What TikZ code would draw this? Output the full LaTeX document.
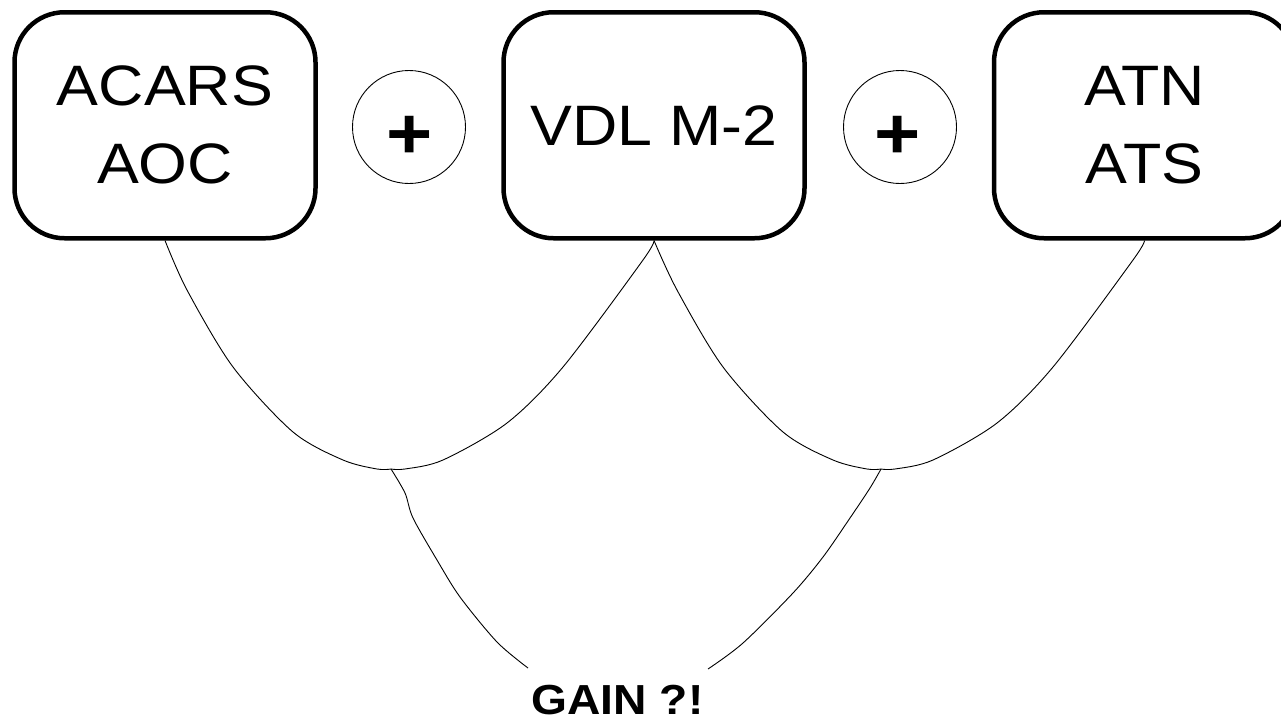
\documentclass[tikz,border=0pt]{standalone}
\usepackage{fontspec}
\newfontfamily\lbl{Liberation Sans}[FakeStretch=1.1]
\begin{document}
\begin{tikzpicture}[x=1pt,y=-1pt,
  boxnode/.style={draw, line width=4.5pt, rounded corners=50pt,
    minimum width=301pt, minimum height=226pt, inner sep=0pt,
    align=center, font=\lbl\fontsize{57}{78}\selectfont},
  ring/.style={draw, circle, line width=0.9pt, minimum size=113pt, inner sep=0pt},
  plussign/.style={anchor=base, inner sep=0pt, font=\lbl\bfseries\fontsize{72}{72}\selectfont},
  link/.style={line width=0.9pt},
  gaintext/.style={anchor=base, inner sep=0pt, text depth=0pt, font=\lbl\bfseries\fontsize{42}{42}\selectfont}]
\clip (0,0) rectangle (1281,718);
\node[boxnode] (b1) at (165,125.25) {ACARS\\AOC};
\node[boxnode] (b2) at (654,125.25) {VDL M-2};
\node[boxnode] (b3) at (1144.5,125.25) {ATN\\ATS};
\node[ring] (c1) at (409,127) {};
\node[ring] (c2) at (900,127) {};
\node[plussign] (p1) at (410,158) {+};
\node[plussign] (p2) at (897.5,158) {+};
\coordinate (j1) at (391,469);
\coordinate (j2) at (881,469);
\coordinate (e1) at (528,668);
\coordinate (e2) at (708,669);
\node[gaintext] (g) at (617.5,714.5) {GAIN ?!};
\draw[link] plot[smooth, tension=0.5] coordinates {(b1.south) (187,290) (233,367) (293,432) (343,460) (377,469) (j1)};
\draw[link] plot[smooth, tension=0.5] coordinates {(j1) (405,469) (443,460) (507,423) (563,367) (643,260) (b2.south)};
\draw[link] plot[smooth, tension=0.5] coordinates {(b2.south) (677,290) (723,367) (783,432) (833,460) (867,469) (j2)};
\draw[link] plot[smooth, tension=0.5] coordinates {(j2) (895,469) (933,460) (997,423) (1053,367) (1133,260) (b3.south)};
\draw[link] plot[smooth, tension=0.5] coordinates {(j1) (405,493) (413,518) (437,560) (460,597) (497,642) (e1)};
\draw[link] plot[smooth, tension=0.5] coordinates {(j2) (870,488) (850,518) (823,557) (793,593) (743,643) (e2)};
\end{tikzpicture}
\end{document}
